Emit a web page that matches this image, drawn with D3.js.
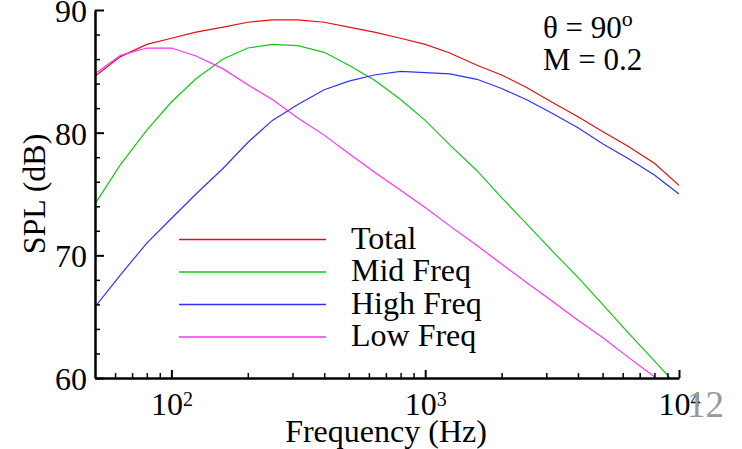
<!DOCTYPE html>
<html>
<head>
<meta charset="utf-8">
<script src="https://cdn.jsdelivr.net/npm/d3@7"></script>
<style>
  body { margin: 0; background: #fff; }
  svg { display: block; font-family: "Liberation Serif", "Times New Roman", serif; }
</style>
</head>
<body>
<div id="chart"></div>
<script>
// 1/3 octave band centre frequencies (Hz)
var freqs = [50, 63, 80, 100, 125, 160, 200, 250, 315, 400, 500, 630, 800,
             1000, 1250, 1600, 2000, 2500, 3150, 4000, 5000, 6300, 8000, 10000];

var total   = [84.6, 86.2, 87.2, 87.7, 88.2, 88.6, 89.0, 89.2, 89.2, 89.0, 88.6, 88.2, 87.7,
               87.2, 86.5, 85.5, 84.7, 83.7, 82.5, 81.3, 80.1, 78.9, 77.5, 75.7];
var midFreq = [74.2, 77.4, 80.2, 82.5, 84.4, 86.0, 86.9, 87.2, 87.1, 86.55, 85.5, 84.3, 82.7,
               81.0, 79.0, 76.9, 74.7, 72.6, 70.4, 68.2, 66.0, 63.7, 61.4, 59.2];
var highFreq = [65.8, 68.4, 71.0, 73.0, 75.0, 77.1, 79.2, 81.0, 82.3, 83.5, 84.2, 84.7, 85.0,
                84.9, 84.8, 84.35, 83.6, 82.7, 81.6, 80.4, 79.1, 77.9, 76.55, 75.0];
var lowFreq = [84.8, 86.3, 86.9, 86.9, 86.25, 85.2, 83.9, 82.7, 81.2, 79.8, 78.3, 76.8, 75.3,
               73.9, 72.4, 70.8, 69.3, 67.8, 66.3, 64.7, 63.3, 61.7, 60.1, 58.5];

var seriesNames = ["Total", "Mid Freq", "High Freq", "Low Freq"];
var seriesValues = [total, midFreq, highFreq, lowFreq];
var seriesColors = ["#e01010", "#10c810", "#3030ff", "#ff30ff"];

var yMajor = [60, 70, 80, 90];
var yMinor = [62, 64, 66, 68, 72, 74, 76, 78, 82, 84, 86, 88];
var xMajor = [100, 1000, 10000];
var xMinor = [60, 70, 80, 90, 200, 300, 400, 500, 600, 700, 800, 900,
              2000, 3000, 4000, 5000, 6000, 7000, 8000, 9000];

var W = 742, H = 449;
var margin = { top: 10, right: 63, bottom: 71, left: 95 },
    width = W - margin.left - margin.right,
    height = H - margin.top - margin.bottom;

var svg = d3.select('#chart').append('svg')
    .attr('width', W)
    .attr('height', H);

var g = svg.append('g')
    .attr('transform', 'translate(' + [margin.left, margin.top] + ')');

var x = d3.scaleLog().domain([50, 10000]).range([0, width]);
var y = d3.scaleLinear().domain([60, 90]).range([height, 0]);

g.append('clipPath').attr('id', 'plotclip')
  .append('rect').attr('width', width).attr('height', height);

// curves
var line = d3.line()
    .x(function (d, i) { return x(freqs[i]); })
    .y(function (d) { return y(d); });

g.append('g').attr('clip-path', 'url(#plotclip)')
  .selectAll('path')
  .data(seriesValues)
  .enter().append('path')
    .attr('d', line)
    .attr('fill', 'none')
    .attr('stroke', function (d, i) { return seriesColors[i]; })
    .attr('stroke-width', 1.2);

// y axis
g.append('g')
    .call(d3.axisLeft(y).tickValues(yMinor).tickSize(-5).tickSizeOuter(0).tickFormat(''))
    .call(function (a) { a.select('.domain').remove(); })
    .selectAll('line').attr('stroke-width', 1.5);

var yAxis = g.append('g')
    .call(d3.axisLeft(y).tickValues(yMajor).tickSize(-9).tickSizeOuter(0).tickPadding(8));
yAxis.select('.domain').attr('stroke-width', 2.5);
yAxis.selectAll('line').attr('stroke-width', 2);
yAxis.selectAll('text')
    .attr('font-size', 32)
    .attr('font-family', '"Liberation Serif", serif')
    .attr('dy', '0.36em');

// x axis
g.append('g')
    .attr('transform', 'translate(0,' + height + ')')
    .call(d3.axisBottom(x).tickValues(xMinor).tickSize(-5).tickSizeOuter(0).tickFormat(''))
    .call(function (a) { a.select('.domain').remove(); })
    .selectAll('line').attr('stroke-width', 1.5);

var xAxis = g.append('g')
    .attr('transform', 'translate(0,' + height + ')')
    .call(d3.axisBottom(x).tickValues(xMajor).tickSize(-8).tickSizeOuter(0).tickPadding(14));
xAxis.select('.domain').attr('stroke-width', 2.5);
xAxis.selectAll('line').attr('stroke-width', 2);
xAxis.selectAll('text')
    .attr('font-size', 32)
    .attr('font-family', '"Liberation Serif", serif')
    .attr('dy', '0.71em')
    .text(null)
    .each(function (d) {
      var t = d3.select(this);
      t.append('tspan').text('10');
      t.append('tspan').attr('font-size', 20).attr('dy', -9)
        .text(Math.round(Math.log10(d)));
    });

// axis titles
svg.append('text')
    .attr('x', 386).attr('y', 442)
    .attr('text-anchor', 'middle')
    .attr('font-size', 32)
    .text('Frequency (Hz)');

svg.append('text')
    .attr('transform', 'translate(45,194) rotate(-90)')
    .attr('text-anchor', 'middle')
    .attr('font-size', 32)
    .text('SPL (dB)');

// annotation
var ann = svg.append('text').attr('x', 543).attr('y', 38).attr('font-size', 31);
ann.append('tspan').text('\u03b8 = 90');
ann.append('tspan').attr('font-size', 22).attr('dy', -12).text('o');
svg.append('text').attr('x', 543).attr('y', 70).attr('font-size', 31).text('M = 0.2');

// legend
var legend = svg.append('g').selectAll('g')
    .data(seriesNames)
    .enter().append('g')
    .attr('transform', function (d, i) { return 'translate(0,' + (239.5 + i * 32.5) + ')'; });
legend.append('line')
    .attr('x1', 179).attr('x2', 326)
    .attr('stroke', function (d, i) { return seriesColors[i]; })
    .attr('stroke-width', 1.5);
legend.append('text')
    .attr('x', 351).attr('y', 9)
    .attr('font-size', 32)
    .text(function (d) { return d; });

// page number
svg.append('text')
    .attr('x', 687).attr('y', 417)
    .attr('font-size', 37)
    .attr('fill', '#999')
    .text('12');
</script>
</body>
</html>
